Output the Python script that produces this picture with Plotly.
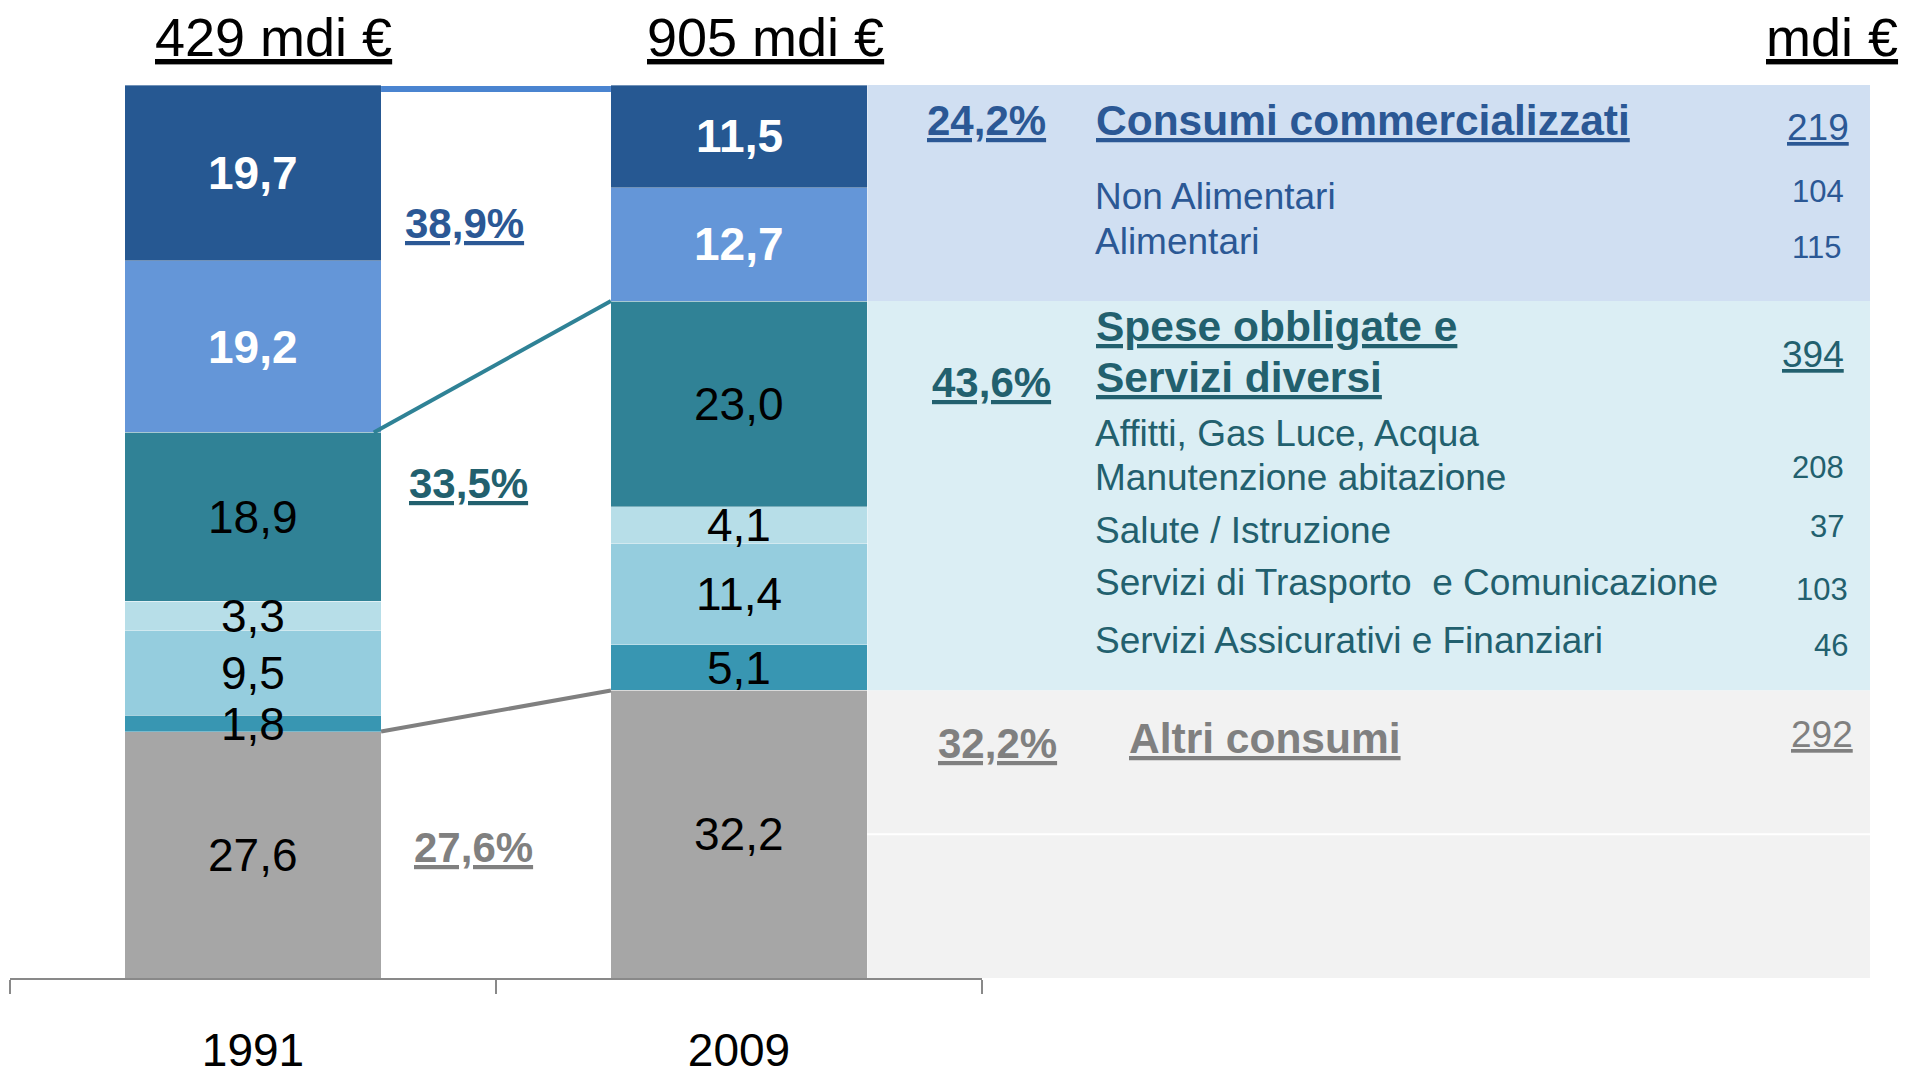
import plotly.graph_objects as go

W, H = 1910, 1073
OFF = 8  # page body margin of the written html
FW, FH = W - OFF, H - OFF
FONT = "Liberation Sans, Arial, sans-serif"

# ---------------- data ----------------
years = ["1991", "2009"]
totals_mdi = [429, 905]
segments = [
    "Altri consumi",
    "Servizi Assicurativi e Finanziari",
    "Servizi di Trasporto e Comunicazione",
    "Salute / Istruzione",
    "Affitti, Gas Luce, Acqua, Manutenzione abitazione",
    "Alimentari",
    "Non Alimentari",
]
share_1991 = [27.6, 1.8, 9.5, 3.3, 18.9, 19.2, 19.7]
share_2009 = [32.2, 5.1, 11.4, 4.1, 23.0, 12.7, 11.5]
segment_group = [2, 1, 1, 1, 1, 0, 0]

group_titles = [["Consumi commercializzati"], ["Spese obbligate e", "Servizi diversi"], ["Altri consumi"]]
group_mdi_2009 = [219, 394, 292]
detail_labels = ["Non Alimentari", "Alimentari", "Affitti, Gas Luce, Acqua",
                 "Manutenzione abitazione", "Salute / Istruzione",
                 "Servizi di Trasporto\u00a0 e Comunicazione", "Servizi Assicurativi e Finanziari"]
detail_mdi = [104, 115, None, 208, 37, 103, 46]

# ---------------- styles ----------------
seg_colors = ["#A6A6A6", "#3896B2", "#95CDDE", "#B7DEE8", "#308296", "#6496D8", "#265892"]
seg_text_white = [False, False, False, False, False, True, True]
group_text_colors = ["#2B5895", "#22606E", "#808080"]
band_colors = ["#D0DFF2", "#DBEEF4", "#F2F2F2"]
BAR_W = 0.527


def fmt(v, pct=False):
    s = f"{v:.1f}".replace(".", ",")
    return s + ("%" if pct else "")


def px(x):
    return (x - OFF) / FW


def py(y):
    return 1 - (y - OFF) / FH


shares = [share_1991, share_2009]

fig = go.Figure()
for k, name in enumerate(segments):
    fig.add_trace(go.Bar(
        x=years, y=[share_1991[k], share_2009[k]], name=name,
        marker=dict(color=seg_colors[k], line=dict(color="rgba(255,255,255,0.35)", width=1)),
        width=BAR_W, showlegend=False, hoverinfo="skip",
    ))

annotations = []
# in-bar labels
for i, yr in enumerate(years):
    cum = 0
    for k in range(len(segments)):
        v = shares[i][k]
        mid = cum + v / 2
        cum += v
        white = seg_text_white[k]
        t = f"<b>{fmt(v)}</b>" if white else fmt(v)
        annotations.append(dict(
            x=i, y=mid, xref="x", yref="y", text=t, showarrow=False,
            font=dict(family=FONT, size=46, color="white" if white else "black"),
            xanchor="center", yanchor="middle"))


def group_share(i, g):
    return sum(v for v, gg in zip(shares[i], segment_group) if gg == g)


def txt(x, y, text, size, color, anchor="left"):
    annotations.append(dict(
        x=px(x), y=py(y), xref="paper", yref="paper", text=text, showarrow=False,
        font=dict(family=FONT, size=size, color=color), xanchor=anchor, yanchor="middle"))


# headers
txt(273, 37, f"<u>{totals_mdi[0]} mdi €</u>", 54, "black", "center")
txt(765, 37, f"<u>{totals_mdi[1]} mdi €</u>", 54, "black", "center")
txt(1900, 37, "<u>mdi €</u>", 54, "black", "right")

# 1991 group shares (between bars)
mid_pos = [(464, 223), (468, 483), (473, 847)]
for g in range(3):
    x, y = mid_pos[g]
    txt(x, y, f"<b><u>{fmt(group_share(0, g), True)}</u></b>", 42, group_text_colors[g], "center")

# 2009 group shares (right panel)
right_pct_pos = [(986, 120), (991, 382), (997, 743)]
for g in range(3):
    x, y = right_pct_pos[g]
    txt(x, y, f"<b><u>{fmt(group_share(1, g), True)}</u></b>", 42, group_text_colors[g], "center")

# group titles
title_pos = [[(1094, 120)], [(1094, 326), (1094, 377)], [(1127, 738)]]
for g in range(3):
    for line, (x, y) in zip(group_titles[g], title_pos[g]):
        txt(x, y, f"<b><u>{line}</u></b>", 42.5, group_text_colors[g], "left")

# group totals
gtot_pos = [(1851, 128), (1846, 355), (1855, 734)]
for g in range(3):
    x, y = gtot_pos[g]
    txt(x, y, f"<u>{group_mdi_2009[g]}</u>", 37, group_text_colors[g], "right")

# detail rows
detail_y = [196, 241, 433, 478, 530, 582, 640]
detail_group = [0, 0, 1, 1, 1, 1, 1]
num_pos = [(1846, 191), (1843, 247), None, (1846, 467), (1846, 526), (1850, 589), (1850, 645)]
for j, lab in enumerate(detail_labels):
    txt(1093, detail_y[j], lab, 37, group_text_colors[detail_group[j]], "left")
    if detail_mdi[j] is not None:
        x, y = num_pos[j]
        txt(x, y, str(detail_mdi[j]), 31, group_text_colors[detail_group[j]], "right")

# ---------------- shapes ----------------
shapes = []
cum09 = [0]
for v in share_2009:
    cum09.append(cum09[-1] + v)
cum91 = [0]
for v in share_1991:
    cum91.append(cum91[-1] + v)

# group bands to the right of the 2009 bar
g_bounds = [(cum09[5], cum09[7]), (cum09[1], cum09[5]), (cum09[0], cum09[1])]
for g in range(3):
    lo, hi = g_bounds[g]
    shapes.append(dict(type="rect", xref="paper", yref="y", x0=px(739), x1=px(1870),
                       y0=lo, y1=hi, fillcolor=band_colors[g], line=dict(width=0), layer="below"))
# faint divider in the last band
shapes.append(dict(type="line", xref="paper", yref="y", x0=px(867), x1=px(1870),
                   y0=share_2009[0] / 2, y1=share_2009[0] / 2,
                   line=dict(color="white", width=2), layer="below"))

# connectors
x_r = 0 + BAR_W / 2
x_l = 1 - BAR_W / 2
shapes.append(dict(type="rect", xref="x", yref="y", ysizemode="pixel", yanchor=cum91[7],
                   x0=x_r, x1=x_l, y0=-7, y1=-1, fillcolor="#4A84D0", line=dict(width=0)))
shapes.append(dict(type="line", xref="x", yref="y", x0=x_r - 0.015, x1=x_l,
                   y0=cum91[5], y1=cum09[5], line=dict(color="#2F8296", width=4)))
shapes.append(dict(type="line", xref="x", yref="y", x0=x_r, x1=x_l,
                   y0=cum91[1], y1=cum09[1], line=dict(color="#808080", width=4)))

fig.update_layout(
    width=FW, height=FH,
    margin=dict(l=0, r=0, t=0, b=0, pad=0),
    paper_bgcolor="white", plot_bgcolor="rgba(0,0,0,0)",
    barmode="stack", bargap=1 - BAR_W,
    showlegend=False,
    annotations=annotations,
    shapes=shapes,
    xaxis=dict(
        type="category", domain=[px(10), px(982)], range=[-0.5, 1.5], automargin=False,
        tickson="boundaries", ticks="outside", ticklen=14, tickwidth=2, tickcolor="#898989",
        showline=True, linecolor="#898989", linewidth=2, showgrid=False, zeroline=False,
        tickfont=dict(family=FONT, size=46, color="black"), ticklabelstandoff=31,
        fixedrange=True,
    ),
    yaxis=dict(
        domain=[py(978), py(85)], range=[0, 100], visible=False, fixedrange=True,
        automargin=False,
    ),
)

fig.write_html("out.html")
